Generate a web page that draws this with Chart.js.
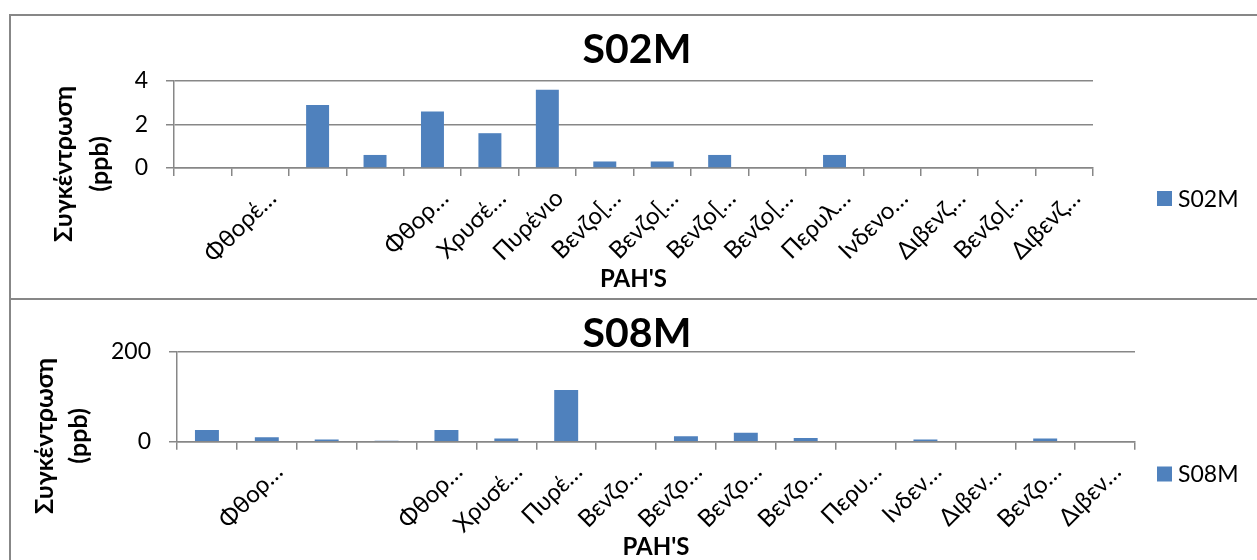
<!DOCTYPE html>
<html><head><meta charset="utf-8">
<script src="https://cdn.jsdelivr.net/npm/chart.js@4.4.1/dist/chart.umd.min.js"></script>
<style>
html,body{margin:0;padding:0;background:#fff;overflow:hidden;width:1257px;height:560px;position:relative;}
canvas{position:absolute;left:0;}
#c1{top:0}
#c2{top:298px}
.frame{position:absolute;border:2.5px solid #878787;box-sizing:border-box;pointer-events:none;}
</style></head><body>
<canvas id="c1" width="1257" height="298"></canvas>
<canvas id="c2" width="1257" height="270"></canvas>
<div class="frame" style="left:9px;top:14px;width:1300px;height:286px"></div>
<div class="frame" style="left:9px;top:298px;width:1300px;height:400px"></div>
<script>
// ---- data ----
const categoriesS02M = ['', 'Φθορέ…', '', '', 'Φθορ…', 'Χρυσέ…', 'Πυρένιο', 'Βενζο[…', 'Βενζο[…', 'Βενζο[…', 'Βενζο[…', 'Περυλ…', 'Ινδενο…', 'Διβενζ…', 'Βενζο[…', 'Διβενζ…'];
const valuesS02M = [0, 0, 2.9, 0.6, 2.6, 1.6, 3.6, 0.3, 0.3, 0.6, 0, 0.6, 0, 0, 0, 0];
const ticksS02M = [0, 2, 4];

const categoriesS08M = ['', 'Φθορ…', '', '', 'Φθορ…', 'Χρυσέ…', 'Πυρέ…', 'Βενζο…', 'Βενζο…', 'Βενζο…', 'Βενζο…', 'Περυ…', 'Ινδεν…', 'Διβεν…', 'Βενζο…', 'Διβεν…'];
const valuesS08M = [26, 10, 5, 2, 26, 7, 115, 0, 12, 20, 8, 0, 5, 0, 7, 0];
const ticksS08M = [0, 200];

const seriesNames = ['S02M', 'S08M'];
const yTitleLines = ['Συγκέντρωση', '(ppb)'];
const xTitle = "PAH'S";

// ---- styling ----
const FONT = 'Lato, "Noto Sans", "DejaVu Sans", sans-serif';
const BAR = '#4F81BD';
const AXIS = '#878787';
Chart.defaults.font.family = FONT;
Chart.defaults.color = '#000';

const chartTitle = {
  id: 'chartTitle',
  afterDraw(chart, args, opts) {
    const ctx = chart.ctx;
    ctx.save();
    ctx.font = 'bold ' + opts.size + 'px ' + FONT;
    ctx.fillStyle = '#000';
    ctx.textAlign = 'center';
    ctx.textBaseline = 'middle';
    ctx.fillText(chart.data.datasets[0].label, opts.x, opts.y);
    ctx.restore();
  }
};
const sideTitle = {
  id: 'sideTitle',
  afterDraw(chart, args, opts) {
    const ctx = chart.ctx;
    ctx.save();
    ctx.font = 'bold ' + opts.size + 'px ' + FONT;
    ctx.fillStyle = '#000';
    ctx.textAlign = 'center';
    ctx.textBaseline = 'middle';
    opts.lines.forEach((t, i) => {
      ctx.save();
      ctx.translate(opts.xs[i], opts.y);
      ctx.rotate(-Math.PI / 2);
      ctx.fillText(t, 0, 0);
      ctx.restore();
    });
    ctx.restore();
  }
};
const sideLegend = {
  id: 'sideLegend',
  afterDraw(chart, args, opts) {
    const ctx = chart.ctx;
    const ds = chart.data.datasets[0];
    ctx.save();
    ctx.fillStyle = ds.backgroundColor;
    ctx.fillRect(opts.x, opts.y - 7.5, 15, 15);
    ctx.font = opts.size + 'px ' + FONT;
    ctx.fillStyle = '#000';
    ctx.textAlign = 'left';
    ctx.textBaseline = 'middle';
    ctx.fillText(ds.label, opts.x + 21, opts.y + 1);
    ctx.restore();
  }
};

function makeChart(id, cfg) {
  return new Chart(document.getElementById(id), {
    type: 'bar',
    data: {
      labels: cfg.labels,
      datasets: [{
        label: cfg.name,
        data: cfg.values,
        backgroundColor: BAR,
        borderWidth: 0,
        categoryPercentage: 1.0,
        barPercentage: 0.4
      }]
    },
    plugins: [chartTitle, sideTitle, sideLegend],
    options: {
      responsive: false,
      animation: false,
      layout: { padding: { left: 0, right: cfg.padRight, top: cfg.padTop, bottom: 0 } },
      plugins: {
        legend: { display: false },
        tooltip: { enabled: false },
        title: { display: false },
        chartTitle: { x: 637, y: cfg.titleY, size: 41 },
        sideTitle: { lines: yTitleLines, xs: cfg.yTitleXs, y: cfg.yTitleY, size: 25 },
        sideLegend: { x: 1157, y: cfg.legendY, size: 23 }
      },
      scales: {
        x: {
          afterFit: s => { s.height = cfg.xHeight; },
          grid: { drawOnChartArea: false, drawTicks: true, tickLength: 8, color: AXIS, lineWidth: 1.5, offset: true },
          border: { display: true, color: AXIS, width: 1.5 },
          ticks: { autoSkip: false, minRotation: 45, maxRotation: 45, labelOffset: 12, padding: 8,
                   font: { family: FONT, size: 24 }, color: '#000' },
          title: { display: true, text: xTitle, color: '#000',
                   font: { family: FONT, size: 24, weight: 'bold', lineHeight: 1.2 },
                   padding: { top: 0, bottom: cfg.xTitlePad } }
        },
        y: {
          min: 0, max: cfg.max,
          afterBuildTicks: s => { s.ticks = cfg.ticks.map(v => ({ value: v })); },
          afterFit: s => { s.width = cfg.yWidth; },
          grid: { color: AXIS, lineWidth: 1.5, tickLength: 8, drawTicks: true },
          border: { display: true, color: AXIS, width: 1.5 },
          ticks: { padding: 18, font: { family: FONT, size: 23 }, color: '#000' }
        }
      }
    }
  });
}

makeChart('c1', {
  labels: categoriesS02M, values: valuesS02M, ticks: ticksS02M, max: 4, name: seriesNames[0],
  padRight: 1257 - 1093, padTop: 81, yWidth: 174, xHeight: 130, xTitlePad: 4.6,
  titleY: 50,
  yTitleXs: [64, 100], yTitleY: 164, legendY: 198.5
});
makeChart('c2', {
  labels: categoriesS08M, values: valuesS08M, ticks: ticksS08M, max: 200, name: seriesNames[1],
  padRight: 1257 - 1135, padTop: 53.7, yWidth: 177, xHeight: 270 - 143.7, xTitlePad: 6,
  titleY: 36,
  yTitleXs: [45, 79], yTitleY: 138, legendY: 176
});
</script>
</body></html>
